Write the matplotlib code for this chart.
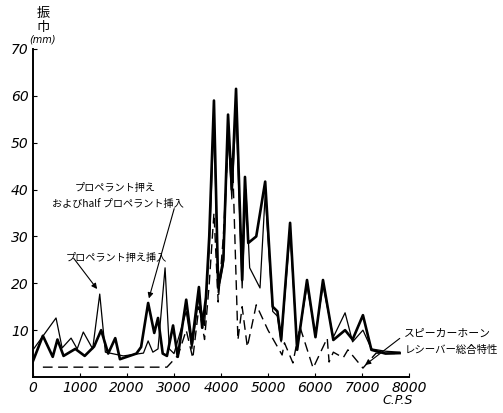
import matplotlib
matplotlib.use("Agg")
import matplotlib.pyplot as plt

plt.rcParams['font.family'] = ['Noto Sans CJK JP', 'DejaVu Sans']

# thick solid line (プロペラント押え および half プロペラント挿入)
freq_thick = [0, 210, 420, 520, 650, 900, 1100, 1300, 1450, 1600, 1750, 1850, 2200, 2300,
              2450, 2580, 2660, 2760, 2850, 2980, 3080, 3260, 3380, 3530, 3600, 3680, 3750, 3850,
              3940, 4050, 4150, 4230, 4320, 4450, 4510, 4580, 4750, 4940, 5100, 5200, 5280,
              5470, 5620, 5830, 6010, 6170, 6390, 6640, 6800, 7020, 7200, 7500, 7800]
amp_thick = [3.4, 8.8, 4.3, 8.0, 4.5, 6.0, 4.5, 6.5, 10.0, 5.0, 8.3, 3.8, 5.0, 6.4,
             15.8, 9.4, 12.6, 5.0, 4.5, 11.0, 4.3, 16.5, 7.0, 19.2, 10.5, 17.0, 30.0, 59.0,
             19.2, 25.0, 56.0, 40.0, 61.5, 20.7, 42.7, 28.6, 30.0, 41.7, 15.0, 14.0, 7.9,
             32.9, 5.8, 20.7, 8.5, 20.7, 7.9, 10.0, 8.0, 13.2, 5.8, 5.0, 5.1]

# thin solid line (プロペラント押え挿入)
freq_thin = [0, 490, 620, 810, 940, 1070, 1270, 1420, 1540, 1920, 2350, 2450, 2550, 2660,
             2810, 2900, 3000, 3260, 3380, 3530, 3650, 3750, 3850, 3940, 4050, 4150, 4230,
             4320, 4450, 4530, 4610, 4830, 4940, 5100, 5200, 5280, 5470, 5620, 5830, 6010,
             6170, 6390, 6640, 6800, 7020, 7200, 7500, 7800]
amp_thin = [5.8, 12.6, 6.2, 8.3, 6.0, 9.6, 6.0, 17.7, 5.3, 4.5, 5.1, 7.7, 5.3, 6.0,
            23.3, 6.0, 5.0, 14.0, 6.0, 17.0, 11.0, 27.0, 55.0, 18.0, 24.0, 52.0, 38.0,
            57.0, 19.0, 40.0, 23.3, 19.0, 39.0, 14.0, 13.0, 7.5, 31.0, 6.5, 19.5, 9.0,
            19.5, 8.5, 13.7, 7.5, 10.0, 6.0, 5.5, 5.3]

# dashed line (スピーカーホーン レシーバー総合特性)
freq_dash = [210, 2850, 3090, 3260, 3400, 3530, 3650, 3750, 3850, 3940, 4050, 4150, 4250,
             4360, 4450, 4560, 4750, 5000, 5300, 5350, 5530, 5680, 5960, 6260, 6300, 6390,
             6600, 6700, 7020, 7300, 7800]
amp_dash = [2.1, 2.1, 4.7, 10.0, 4.0, 15.0, 8.0, 20.0, 35.0, 16.0, 30.0, 50.0, 45.0,
            7.9, 15.0, 6.4, 15.4, 10.0, 4.7, 7.3, 3.0, 10.7, 1.9, 8.3, 3.2, 5.3,
            4.1, 5.8, 1.9, 5.1, 5.0]

x_ticks = [0, 1000, 2000, 3000, 4000, 5000, 6000, 7000, 8000]
y_ticks = [10, 20, 30, 40, 50, 60, 70]

fig = plt.figure(figsize=(5.03, 4.13), dpi=100)
ax = fig.add_axes([33/503, 36/413, 376/503, 328/413])

ax.plot(freq_thick, amp_thick, color='black', lw=1.9)
ax.plot(freq_thin, amp_thin, color='black', lw=0.9)
ax.plot(freq_dash, amp_dash, color='black', lw=1.0, dashes=(7, 4))

ax.set_xlim(0, 8000)
ax.set_ylim(0, 70)
ax.spines['top'].set_visible(False)
ax.spines['right'].set_visible(False)
ax.spines['left'].set_linewidth(1.4)
ax.spines['bottom'].set_linewidth(1.4)
ax.set_xticks(x_ticks)
ax.set_xticklabels([str(v) for v in x_ticks], fontstyle='italic', fontsize=10,
                   family='DejaVu Sans')
ax.set_yticks(y_ticks)
ax.set_yticklabels([str(v) for v in y_ticks], fontstyle='italic', fontsize=10,
                   family='DejaVu Sans')
ax.tick_params(direction='in', length=3, width=0.8, pad=3)

# axis labels
fig.text(43/503, 1 - 14/413, '振', ha='center', va='center', fontsize=9.5)
fig.text(43/503, 1 - 28/413, '巾', ha='center', va='center', fontsize=9.5)
fig.text(43/503, 1 - 39/413, '(mm)', ha='center', va='center', fontsize=7,
         fontstyle='italic', family='DejaVu Sans')
fig.text(398/503, 1 - 400/413, 'C.P.S', ha='center', va='center', fontsize=9,
         fontstyle='italic', family='DejaVu Sans')

# annotations
ax.annotate('', xy=(2450, 16.2), xytext=(3020, 36.5),
            arrowprops=dict(arrowstyle='-|>', color='black', lw=0.8, mutation_scale=8))
ax.text(1750, 40.3, 'プロペラント押え', ha='center', va='center', fontsize=7.3)
ax.text(1800, 37.0, 'およびhalf プロペラント挿入', ha='center', va='center', fontsize=7.3)

ax.annotate('', xy=(1400, 18.3), xytext=(830, 25.8),
            arrowprops=dict(arrowstyle='-|>', color='black', lw=0.8, mutation_scale=8))
ax.text(1780, 25.5, 'プロペラント押え挿入', ha='center', va='center', fontsize=7.3)

ax.annotate('', xy=(7020, 2.2), xytext=(7850, 8.6),
            arrowprops=dict(arrowstyle='-|>', color='black', lw=0.8, mutation_scale=8),
            annotation_clip=False)
ax.text(7900, 9.3, 'スピーカーホーン', ha='left', va='center', fontsize=7.8)
ax.text(7900, 5.7, 'レシーバー総合特性', ha='left', va='center', fontsize=7.5)

fig.savefig('out.png', dpi=100)
